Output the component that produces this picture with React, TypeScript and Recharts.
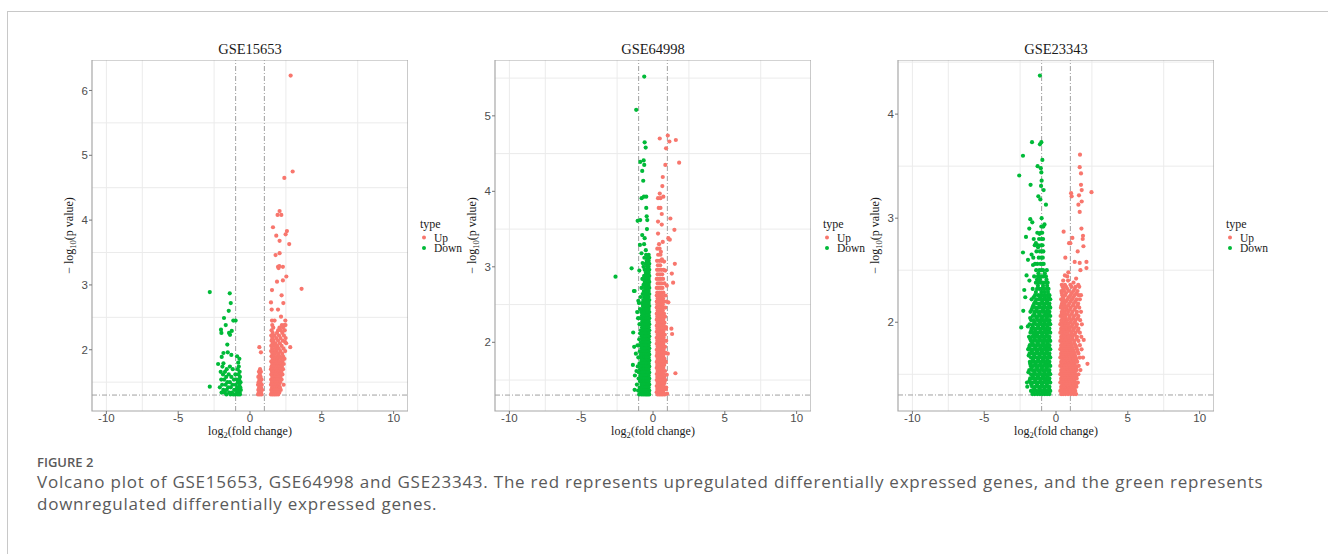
import React from "react";
import {
  ScatterChart,
  Scatter,
  XAxis,
  YAxis,
  CartesianGrid,
  ReferenceLine,
  ReferenceArea,
} from "recharts";

type Pt = [number, number];
type Row = [number, number[]]; // [y, xs]

const typeLabels = ["Up", "Down"];
const xTicks = [-10, -5, 0, 5, 10];
const xMinor = [-7.5, -2.5, 2.5, 7.5];
const xDomain: [number, number] = [-11, 11];
const fcCutoff = [-1, 1];
const pCutoff = 1.301;

// GSE15653
const gse15653Ticks = [2, 3, 4, 5, 6];
const gse15653Minor = [1.5, 2.5, 3.5, 4.5, 5.5];
const gse15653Domain: [number, number] = [1.055, 6.47];
const gse15653Up: Pt[] = [
  [2.83, 6.23], [2.97, 4.75], [2.39, 4.65], [2.06, 4.14], [1.92, 4.08], [2.18, 4.08],
  [1.6, 3.89], [2.57, 3.83], [2.48, 3.78], [1.83, 3.76], [2.06, 3.68], [2.73, 3.63],
  [2.06, 3.49], [1.78, 3.46], [1.95, 3.28], [2.04, 3.29], [2.29, 3.28], [1.99, 3.26],
  [2.53, 3.13], [2.29, 3.07], [1.88, 3.05], [3.59, 2.94], [1.53, 2.92], [2.2, 2.84],
  [1.46, 2.73], [2.32, 2.72], [1.51, 2.62], [1.95, 2.62], [2.16, 2.51], [1.53, 2.45],
  [1.71, 2.45], [2.46, 2.45], [2.8, 2.04], [2.48, 2.18], [2.44, 2.12], [0.65, 2.04],
  [0.76, 1.96],
];
const gse15653UpRows: Row[] = [
  [2.38, [1.55, 2.22, 2.38, 2.47]],
  [2.34, [1.62, 2.05, 2.3]],
  [2.3, [1.5, 1.96, 2.14, 2.42]],
  [2.26, [1.58, 1.88, 2.25]],
  [2.22, [1.48, 1.7, 2.02, 2.36]],
  [2.18, [1.55, 1.82, 2.12]],
  [2.14, [1.5, 1.64, 1.95, 2.28]],
  [2.1, [1.58, 1.76, 2.08, 2.52]],
  [2.06, [1.48, 1.68, 1.9, 2.2]],
  [2.02, [1.54, 1.8, 2.0, 2.33]],
  [1.98, [1.47, 1.62, 1.86, 2.12, 2.45]],
  [1.94, [1.56, 1.74, 1.97, 2.24]],
  [1.9, [1.5, 1.66, 1.88, 2.06, 2.3]],
  [1.86, [1.58, 1.79, 1.94, 2.16, 2.4]],
  [1.82, [1.48, 1.7, 1.86, 2.02, 2.26]],
  [1.78, [1.55, 1.62, 1.78, 1.98, 2.12, 2.35]],
  [1.74, [1.5, 1.68, 1.9, 2.06, 2.22]],
  [1.7, [0.7, 1.46, 1.58, 1.76, 1.96, 2.14, 2.3]],
  [1.66, [0.62, 0.76, 1.53, 1.66, 1.84, 2.02, 2.18]],
  [1.62, [0.68, 1.48, 1.6, 1.74, 1.92, 2.08, 2.26]],
  [1.58, [0.58, 0.74, 1.55, 1.68, 1.82, 2.0, 2.12]],
  [1.54, [0.66, 0.8, 1.47, 1.6, 1.76, 1.9, 2.04, 2.2]],
  [1.5, [0.6, 0.72, 1.52, 1.64, 1.8, 1.96, 2.1]],
  [1.46, [0.56, 0.68, 0.82, 1.46, 1.58, 1.7, 1.86, 2.02, 2.34]],
  [1.42, [0.64, 0.76, 1.54, 1.66, 1.78, 1.92, 2.08]],
  [1.38, [0.58, 0.7, 0.84, 1.48, 1.6, 1.72, 1.84, 1.98, 2.14]],
  [1.34, [0.62, 0.76, 1.52, 1.64, 1.76, 1.9, 2.04]],
  [1.31, [0.56, 0.68, 0.8, 1.46, 1.58, 1.7, 1.82, 1.96]],
];
const gse15653Down: Pt[] = [
  [-2.8, 2.89], [-1.41, 2.87], [-1.34, 2.72], [-1.48, 2.6], [-1.81, 2.49], [-1.16, 2.45],
  [-1.0, 2.45], [-1.69, 2.38], [-2.02, 2.31], [-1.99, 2.26], [-1.46, 2.26], [-1.27, 2.29],
  [-1.39, 2.23], [-1.58, 2.08], [-1.85, 1.95], [-1.97, 1.89], [-1.55, 1.96], [-0.9, 1.9],
  [-0.74, 1.86], [-2.22, 1.78], [-1.85, 1.79], [-2.8, 1.43], [-1.3, 1.92], [-0.82, 1.8],
];
const gse15653DownRows: Row[] = [
  [1.74, [-1.92, -1.4, -0.78]],
  [1.7, [-1.62, -1.2, -0.86]],
  [1.66, [-2.04, -1.74, -0.72]],
  [1.62, [-1.88, -1.48, -1.02, -0.8]],
  [1.58, [-1.66, -1.3, -0.7]],
  [1.54, [-2.0, -1.8, -1.12, -0.92, -0.76]],
  [1.5, [-1.58, -1.4, -0.84, -0.66]],
  [1.46, [-1.94, -1.7, -1.22, -1.0, -0.74]],
  [1.42, [-2.1, -1.52, -1.34, -0.88, -0.68]],
  [1.38, [-1.86, -1.62, -1.1, -0.96, -0.8, -0.64]],
  [1.34, [-1.98, -1.76, -1.44, -1.26, -0.9, -0.72]],
  [1.31, [-1.64, -1.36, -1.16, -1.02, -0.84, -0.7]],
];

// GSE64998
const gse64998Ticks = [2, 3, 4, 5];
const gse64998Minor = [1.5, 2.5, 3.5, 4.5, 5.5];
const gse64998Domain: [number, number] = [1.09, 5.74];
const gse64998Up: Pt[] = [
  [1.03, 4.74], [0.47, 4.7], [1.59, 4.68], [1.14, 4.66], [0.91, 4.57], [1.82, 4.38],
  [0.86, 4.35], [0.68, 4.19], [0.65, 4.07], [0.47, 3.97], [0.35, 3.91], [0.72, 3.93],
  [0.52, 3.91], [0.4, 3.78], [0.52, 3.78], [0.61, 3.7], [1.21, 3.64], [0.35, 3.6],
  [0.61, 3.56], [1.49, 3.49], [0.35, 3.44], [1.07, 3.38], [1.17, 3.36], [0.68, 3.33],
  [0.42, 3.3], [0.55, 3.2], [0.77, 3.07], [1.52, 3.04], [1.31, 2.91], [1.4, 2.79],
  [0.96, 2.75], [1.07, 2.53], [1.28, 2.18], [1.33, 2.11], [1.56, 1.59], [0.96, 1.57],
  [1.03, 1.85], [0.92, 1.4], [0.98, 1.32], [0.9, 2.2], [0.85, 2.95], [0.62, 3.1],
];
const gse64998UpRows: Row[] = [
  [3.24, [0.3, 0.46]],
  [3.16, [0.36, 0.52]],
  [3.08, [0.28, 0.44, 0.6]],
  [3.02, [0.34, 0.5]],
  [2.96, [0.28, 0.42, 0.58, 0.74]],
  [2.9, [0.32, 0.48, 0.64]],
  [2.84, [0.26, 0.4, 0.54, 0.7]],
  [2.78, [0.32, 0.46, 0.6, 0.8]],
  [2.72, [0.26, 0.38, 0.52, 0.66]],
  [2.66, [0.3, 0.44, 0.58, 0.72]],
  [2.62, [0.26, 0.36, 0.5, 0.64, 0.88]],
  [2.58, [0.32, 0.44, 0.56, 0.7]],
  [2.54, [0.26, 0.38, 0.5, 0.62, 0.78, 0.94]],
  [2.5, [0.3, 0.42, 0.56, 0.68]],
  [2.46, [0.26, 0.36, 0.48, 0.6, 0.74, 0.86]],
  [2.42, [0.32, 0.44, 0.56, 0.68]],
  [2.38, [0.26, 0.38, 0.5, 0.62, 0.76]],
  [2.34, [0.3, 0.42, 0.54, 0.66, 0.84]],
  [2.3, [0.26, 0.36, 0.48, 0.6, 0.72]],
  [2.26, [0.32, 0.44, 0.56, 0.68, 0.8]],
  [2.22, [0.26, 0.38, 0.5, 0.62, 0.74]],
  [2.18, [0.3, 0.42, 0.54, 0.66, 0.78, 0.9]],
  [2.14, [0.26, 0.36, 0.48, 0.6, 0.72]],
  [2.1, [0.32, 0.44, 0.56, 0.68, 0.82]],
  [2.06, [0.26, 0.38, 0.5, 0.62, 0.74]],
  [2.02, [0.3, 0.42, 0.54, 0.66, 0.78, 0.92]],
  [1.98, [0.26, 0.36, 0.48, 0.6, 0.72]],
  [1.94, [0.32, 0.44, 0.56, 0.68, 0.84]],
  [1.9, [0.26, 0.38, 0.5, 0.62, 0.74]],
  [1.86, [0.3, 0.42, 0.54, 0.66, 0.78, 0.88]],
  [1.82, [0.26, 0.36, 0.48, 0.6, 0.72]],
  [1.78, [0.32, 0.44, 0.56, 0.68, 0.8]],
  [1.74, [0.26, 0.38, 0.5, 0.62, 0.74, 0.9]],
  [1.7, [0.3, 0.42, 0.54, 0.66, 0.78]],
  [1.66, [0.26, 0.36, 0.48, 0.6, 0.72]],
  [1.62, [0.32, 0.44, 0.56, 0.68, 0.84]],
  [1.58, [0.26, 0.38, 0.5, 0.62, 0.74]],
  [1.54, [0.3, 0.42, 0.54, 0.66, 0.78]],
  [1.5, [0.26, 0.36, 0.48, 0.6, 0.72, 0.86]],
  [1.46, [0.32, 0.44, 0.56, 0.68, 0.8]],
  [1.42, [0.26, 0.38, 0.5, 0.62, 0.74]],
  [1.38, [0.3, 0.42, 0.54, 0.66, 0.78, 0.9]],
  [1.34, [0.26, 0.36, 0.48, 0.6, 0.72]],
  [1.31, [0.32, 0.44, 0.56, 0.68, 0.82]],
];
const gse64998Down: Pt[] = [
  [-0.61, 5.52], [-1.17, 5.08], [-0.58, 4.65], [-0.51, 4.58], [-0.89, 4.39], [-0.65, 4.41],
  [-0.61, 4.35], [-0.75, 4.27], [-0.68, 4.14], [-0.79, 3.91], [-0.47, 3.93], [-0.63, 3.93],
  [-0.47, 3.78], [-1.07, 3.61], [-0.89, 3.62], [-0.44, 3.67], [-0.4, 3.62], [-0.42, 3.5],
  [-0.75, 3.42], [-0.58, 3.38], [-0.91, 3.29], [-0.62, 3.3], [-0.5, 3.22], [-0.8, 3.18],
  [-1.49, 2.98], [-2.61, 2.87], [-0.72, 3.05], [-0.95, 2.95], [-1.28, 2.68], [-1.33, 2.68],
  [-1.38, 2.13], [-1.31, 1.94], [-1.19, 1.85], [-1.26, 1.56], [-1.28, 1.37], [-1.1, 2.4],
  [-1.02, 2.55], [-1.4, 1.7], [-1.15, 1.62],
];
const gse64998DownRows: Row[] = [
  [3.16, [-0.3, -0.48]],
  [3.12, [-0.26, -0.38, -0.6]],
  [3.08, [-0.3, -0.44]],
  [3.04, [-0.26, -0.36, -0.52]],
  [3.0, [-0.3, -0.42, -0.66]],
  [2.96, [-0.26, -0.34, -0.46, -0.58]],
  [2.92, [-0.3, -0.4, -0.5]],
  [2.88, [-0.26, -0.36, -0.46, -0.62]],
  [2.84, [-0.3, -0.42, -0.54, -0.74]],
  [2.8, [-0.26, -0.34, -0.46, -0.58]],
  [2.76, [-0.3, -0.4, -0.5, -0.66]],
  [2.72, [-0.26, -0.36, -0.46, -0.56, -0.8]],
  [2.68, [-0.3, -0.42, -0.52, -0.64]],
  [2.64, [-0.26, -0.34, -0.46, -0.58, -0.72]],
  [2.6, [-0.3, -0.4, -0.5, -0.62, -0.86]],
  [2.56, [-0.26, -0.36, -0.46, -0.56, -0.68]],
  [2.52, [-0.3, -0.42, -0.52, -0.64, -0.78, -0.98]],
  [2.48, [-0.26, -0.34, -0.46, -0.58, -0.7]],
  [2.44, [-0.3, -0.4, -0.5, -0.62, -0.74, -0.9]],
  [2.4, [-0.26, -0.36, -0.46, -0.56, -0.68, -0.82]],
  [2.36, [-0.3, -0.42, -0.52, -0.64, -0.76]],
  [2.32, [-0.26, -0.34, -0.46, -0.58, -0.7, -0.86, -1.04]],
  [2.28, [-0.3, -0.4, -0.5, -0.62, -0.74]],
  [2.24, [-0.26, -0.36, -0.46, -0.56, -0.68, -0.8, -0.94]],
  [2.2, [-0.3, -0.42, -0.52, -0.64, -0.76]],
  [2.16, [-0.26, -0.34, -0.46, -0.58, -0.7, -0.84]],
  [2.12, [-0.3, -0.4, -0.5, -0.62, -0.74, -0.9]],
  [2.08, [-0.26, -0.36, -0.46, -0.56, -0.68, -0.8]],
  [2.04, [-0.3, -0.42, -0.52, -0.64, -0.76, -0.96]],
  [2.0, [-0.26, -0.34, -0.46, -0.58, -0.7, -0.84]],
  [1.96, [-0.3, -0.4, -0.5, -0.62, -0.74, -0.88, -1.08]],
  [1.92, [-0.26, -0.36, -0.46, -0.56, -0.68, -0.8]],
  [1.88, [-0.3, -0.42, -0.52, -0.64, -0.76, -0.92]],
  [1.84, [-0.26, -0.34, -0.46, -0.58, -0.7, -0.84]],
  [1.8, [-0.3, -0.4, -0.5, -0.62, -0.74, -0.88, -1.02]],
  [1.76, [-0.26, -0.36, -0.46, -0.56, -0.68, -0.8]],
  [1.72, [-0.3, -0.42, -0.52, -0.64, -0.76, -0.94]],
  [1.68, [-0.26, -0.34, -0.46, -0.58, -0.7, -0.84, -1.06]],
  [1.64, [-0.3, -0.4, -0.5, -0.62, -0.74, -0.9]],
  [1.6, [-0.26, -0.36, -0.46, -0.56, -0.68, -0.8, -0.98]],
  [1.56, [-0.3, -0.42, -0.52, -0.64, -0.76, -0.88]],
  [1.52, [-0.26, -0.34, -0.46, -0.58, -0.7, -0.84, -1.0]],
  [1.48, [-0.3, -0.4, -0.5, -0.62, -0.74, -0.9]],
  [1.44, [-0.26, -0.36, -0.46, -0.56, -0.68, -0.8, -1.12]],
  [1.4, [-0.3, -0.42, -0.52, -0.64, -0.76, -0.92]],
  [1.36, [-0.26, -0.34, -0.46, -0.58, -0.7, -0.84, -1.04]],
  [1.33, [-0.3, -0.4, -0.5, -0.62, -0.74, -0.88]],
  [1.31, [-0.26, -0.36, -0.46, -0.56, -0.68, -0.8, -0.96]],
];

// GSE23343
const gse23343Ticks = [2, 3, 4];
const gse23343Minor = [1.5, 2.5, 3.5, 4.5];
const gse23343Domain: [number, number] = [1.147, 4.52];
const gse23343Up: Pt[] = [
  [1.67, 3.61], [1.65, 3.49], [1.74, 3.43], [1.74, 3.32], [1.79, 3.27], [2.47, 3.25],
  [1.05, 3.24], [1.09, 3.21], [1.6, 3.22], [1.79, 3.16], [1.56, 3.13], [1.65, 3.06],
  [1.77, 2.9], [0.53, 2.87], [1.14, 2.81], [1.88, 2.83], [1.86, 2.8], [0.91, 2.76],
  [1.0, 2.76], [1.91, 2.73], [1.51, 2.68], [0.65, 2.62], [1.3, 2.58], [1.65, 2.57],
  [2.12, 2.58], [2.12, 2.52], [1.7, 2.5], [0.86, 2.48], [0.78, 2.44], [1.93, 1.83],
  [2.19, 1.6], [1.88, 1.66], [1.4, 2.42], [1.22, 2.38], [1.55, 2.36], [0.62, 2.45],
];
const gse23343UpRows: Row[] = [
  [2.4, [0.5, 0.84]],
  [2.36, [0.4, 0.62, 1.0]],
  [2.34, [0.46, 0.7, 1.08, 1.36, 1.62]],
  [2.32, [0.52, 0.78, 1.3]],
  [2.3, [0.38, 0.56, 0.9, 1.2, 1.5]],
  [2.28, [0.4, 0.7, 1.1, 1.42]],
  [2.26, [0.44, 0.64, 1.0, 1.3, 1.58, 1.74]],
  [2.24, [0.5, 0.88, 1.2]],
  [2.22, [0.36, 0.52, 0.8, 1.12, 1.44, 1.66]],
  [2.2, [0.46, 0.7, 1.02, 1.34]],
  [2.18, [0.42, 0.6, 0.92, 1.24, 1.54]],
  [2.16, [0.38, 0.62, 0.86, 1.18, 1.5]],
  [2.14, [0.34, 0.5, 0.72, 1.02, 1.36, 1.62]],
  [2.12, [0.48, 0.74, 0.96, 1.28]],
  [2.1, [0.4, 0.58, 0.84, 1.14, 1.46, 1.74]],
  [2.08, [0.4, 0.58, 0.82, 1.1, 1.42]],
  [2.06, [0.32, 0.48, 0.66, 0.96, 1.26, 1.56]],
  [2.04, [0.46, 0.66, 0.92, 1.2, 1.52]],
  [2.02, [0.38, 0.54, 0.76, 1.06, 1.36, 1.68]],
  [2.0, [0.38, 0.56, 0.76, 1.0, 1.3]],
  [1.98, [0.3, 0.46, 0.62, 0.86, 1.16, 1.46, 1.8]],
  [1.96, [0.44, 0.64, 0.84, 1.1, 1.4]],
  [1.94, [0.36, 0.52, 0.7, 0.96, 1.26, 1.56]],
  [1.92, [0.38, 0.52, 0.74, 0.96, 1.2, 1.52]],
  [1.9, [0.3, 0.44, 0.6, 0.78, 1.06, 1.36, 1.66]],
  [1.88, [0.44, 0.6, 0.8, 1.04, 1.3]],
  [1.86, [0.36, 0.5, 0.66, 0.88, 1.16, 1.46, 1.76]],
  [1.84, [0.38, 0.52, 0.7, 0.9, 1.14, 1.44]],
  [1.82, [0.3, 0.44, 0.58, 0.76, 0.98, 1.26, 1.56]],
  [1.8, [0.44, 0.6, 0.8, 1.02, 1.26]],
  [1.78, [0.36, 0.5, 0.66, 0.84, 1.08, 1.36, 1.66]],
  [1.76, [0.38, 0.52, 0.7, 0.88, 1.12, 1.4]],
  [1.74, [0.3, 0.44, 0.58, 0.74, 0.94, 1.18, 1.46, 1.78]],
  [1.72, [0.44, 0.6, 0.8, 1.0, 1.22, 1.5]],
  [1.7, [0.36, 0.5, 0.66, 0.84, 1.04, 1.28, 1.56]],
  [1.68, [0.38, 0.52, 0.7, 0.88, 1.08, 1.32]],
  [1.66, [0.3, 0.44, 0.58, 0.74, 0.94, 1.14, 1.38, 1.66]],
  [1.64, [0.44, 0.6, 0.8, 1.0, 1.2, 1.42]],
  [1.62, [0.36, 0.5, 0.66, 0.84, 1.04, 1.24, 1.48]],
  [1.6, [0.38, 0.52, 0.7, 0.88, 1.08, 1.3]],
  [1.58, [0.3, 0.44, 0.58, 0.74, 0.94, 1.14, 1.34, 1.58]],
  [1.56, [0.44, 0.6, 0.8, 1.0, 1.2, 1.4]],
  [1.54, [0.36, 0.5, 0.66, 0.84, 1.04, 1.24, 1.44, 1.7]],
  [1.52, [0.38, 0.52, 0.7, 0.88, 1.08, 1.3]],
  [1.5, [0.3, 0.44, 0.58, 0.74, 0.94, 1.14, 1.34, 1.56]],
  [1.48, [0.44, 0.6, 0.8, 1.0, 1.2, 1.4]],
  [1.46, [0.36, 0.5, 0.66, 0.84, 1.04, 1.24, 1.44]],
  [1.44, [0.38, 0.52, 0.7, 0.88, 1.08, 1.28]],
  [1.42, [0.3, 0.44, 0.58, 0.74, 0.94, 1.14, 1.34, 1.52]],
  [1.4, [0.44, 0.6, 0.8, 1.0, 1.2, 1.38]],
  [1.38, [0.36, 0.5, 0.66, 0.84, 1.04, 1.24, 1.42]],
  [1.36, [0.38, 0.52, 0.7, 0.88, 1.08, 1.28]],
  [1.34, [0.3, 0.44, 0.58, 0.74, 0.94, 1.14, 1.34]],
  [1.325, [0.44, 0.6, 0.8, 1.0, 1.2]],
  [1.31, [0.36, 0.5, 0.66, 0.84, 1.04, 1.24, 1.4]],
];
const gse23343Down: Pt[] = [
  [-1.12, 4.37], [-1.67, 3.73], [-1.12, 3.71], [-1.02, 3.73], [-2.3, 3.6], [-0.95, 3.56],
  [-1.28, 3.5], [-1.06, 3.48], [-2.56, 3.41], [-1.02, 3.44], [-1.0, 3.36], [-1.77, 3.32],
  [-1.04, 3.31], [-0.86, 3.27], [-1.23, 3.21], [-1.09, 3.18], [-0.7, 3.13], [-1.0, 3.0],
  [-1.79, 2.99], [-1.65, 2.96], [-0.88, 2.92], [-0.8, 2.94], [-1.86, 2.9], [-2.09, 2.82],
  [-2.3, 2.67], [-2.42, 1.95], [-2.28, 2.11], [-2.21, 2.31], [-2.14, 2.24], [-2.02, 1.42],
  [-2.0, 1.38], [-1.55, 2.8], [-1.4, 2.76], [-1.7, 2.65], [-1.95, 2.6], [-1.6, 2.55],
  [-2.05, 2.45], [-1.85, 2.4], [-1.25, 2.72], [-1.15, 2.85],
];
const gse23343DownRows: Row[] = [
  [2.92, [-0.92, -1.02]],
  [2.86, [-0.96, -1.06, -1.3]],
  [2.8, [-0.9, -1.0, -1.18]],
  [2.74, [-0.94, -1.04, -1.24, -1.48]],
  [2.68, [-0.88, -0.98, -1.12, -1.36]],
  [2.62, [-0.92, -1.02, -1.2, -1.58]],
  [2.56, [-0.86, -0.96, -1.08, -1.3, -1.46]],
  [2.5, [-0.64, -0.9, -1.0, -1.16, -1.38]],
  [2.47, [-0.78, -1.22]],
  [2.44, [-0.7, -0.86, -0.98, -1.1, -1.26, -1.52]],
  [2.41, [-0.66, -1.12, -1.32]],
  [2.38, [-0.58, -0.76, -0.92, -1.04, -1.2, -1.4]],
  [2.35, [-0.62, -0.9, -1.26]],
  [2.32, [-0.52, -0.66, -0.84, -0.98, -1.14, -1.32, -1.62]],
  [2.29, [-0.56, -0.8, -1.02, -1.4]],
  [2.26, [-0.46, -0.6, -0.76, -0.92, -1.06, -1.24, -1.46]],
  [2.24, [-0.5, -0.78, -1.1, -1.56]],
  [2.22, [-0.4, -0.54, -0.7, -0.86, -1.0, -1.18, -1.36, -1.7]],
  [2.2, [-0.62, -0.96, -1.44]],
  [2.18, [-0.46, -0.62, -0.78, -0.94, -1.1, -1.28, -1.52]],
  [2.16, [-0.48, -0.82, -1.14, -1.58]],
  [2.14, [-0.4, -0.54, -0.7, -0.86, -1.02, -1.2, -1.4, -1.64]],
  [2.12, [-0.58, -0.9, -1.36, -1.7]],
  [2.1, [-0.46, -0.62, -0.78, -0.94, -1.12, -1.3, -1.5, -1.78]],
  [2.08, [-0.5, -0.76, -1.16, -1.52]],
  [2.06, [-0.4, -0.54, -0.7, -0.86, -1.04, -1.22, -1.44, -1.62]],
  [2.04, [-0.64, -0.98, -1.34, -1.8]],
  [2.02, [-0.46, -0.62, -0.78, -0.94, -1.1, -1.28, -1.54, -1.72]],
  [2.0, [-0.48, -0.8, -1.12, -1.5]],
  [1.98, [-0.4, -0.54, -0.7, -0.86, -1.02, -1.2, -1.38, -1.6, -1.84]],
  [1.96, [-0.6, -0.9, -1.24, -1.62, -1.96]],
  [1.94, [-0.46, -0.62, -0.78, -0.94, -1.12, -1.3, -1.48, -1.7]],
  [1.92, [-0.5, -0.76, -1.08, -1.44, -1.72]],
  [1.9, [-0.4, -0.54, -0.7, -0.86, -1.04, -1.22, -1.4, -1.58, -1.78]],
  [1.88, [-0.64, -0.96, -1.32, -1.56]],
  [1.86, [-0.46, -0.62, -0.78, -0.94, -1.1, -1.28, -1.46, -1.66, -1.88]],
  [1.84, [-0.48, -0.8, -1.14, -1.48, -1.8]],
  [1.82, [-0.4, -0.54, -0.7, -0.86, -1.02, -1.2, -1.38, -1.56, -1.74]],
  [1.8, [-0.6, -0.9, -1.26, -1.66]],
  [1.78, [-0.46, -0.62, -0.78, -0.94, -1.12, -1.3, -1.48, -1.64, -1.82]],
  [1.76, [-0.5, -0.76, -1.08, -1.44, -1.86]],
  [1.74, [-0.4, -0.54, -0.7, -0.86, -1.04, -1.22, -1.4, -1.58, -1.76, -1.94]],
  [1.72, [-0.64, -0.98, -1.32, -1.68]],
  [1.7, [-0.46, -0.62, -0.78, -0.94, -1.1, -1.28, -1.46, -1.66, -1.84]],
  [1.68, [-0.48, -0.8, -1.14, -1.52, -1.9]],
  [1.66, [-0.4, -0.54, -0.7, -0.86, -1.02, -1.2, -1.38, -1.56, -1.74]],
  [1.64, [-0.6, -0.9, -1.24, -1.6]],
  [1.62, [-0.46, -0.62, -0.78, -0.94, -1.12, -1.3, -1.48, -1.64, -1.82]],
  [1.6, [-0.5, -0.76, -1.08, -1.44, -1.8]],
  [1.58, [-0.4, -0.54, -0.7, -0.86, -1.04, -1.22, -1.4, -1.58, -1.76]],
  [1.56, [-0.64, -0.98, -1.32, -1.7]],
  [1.54, [-0.46, -0.62, -0.78, -0.94, -1.1, -1.28, -1.46, -1.66, -1.86]],
  [1.52, [-0.48, -0.8, -1.14, -1.5, -1.92]],
  [1.5, [-0.4, -0.54, -0.7, -0.86, -1.02, -1.2, -1.38, -1.56, -1.74]],
  [1.48, [-0.6, -0.9, -1.26, -1.62]],
  [1.46, [-0.46, -0.62, -0.78, -0.94, -1.12, -1.3, -1.48, -1.64, -1.8]],
  [1.44, [-0.5, -0.76, -1.08, -1.44, -1.84]],
  [1.42, [-0.4, -0.54, -0.7, -0.86, -1.04, -1.22, -1.4, -1.58, -1.76]],
  [1.4, [-0.64, -0.98, -1.32, -1.72]],
  [1.38, [-0.46, -0.62, -0.78, -0.94, -1.1, -1.28, -1.46, -1.66]],
  [1.36, [-0.48, -0.8, -1.14, -1.52]],
  [1.34, [-0.4, -0.54, -0.7, -0.86, -1.02, -1.2, -1.38, -1.56, -1.74]],
  [1.325, [-0.6, -0.9, -1.26, -1.6]],
  [1.31, [-0.46, -0.62, -0.78, -0.94, -1.12, -1.3, -1.48, -1.64]],
];

const UP = "#F8766D";
const DOWN = "#00BA38";
const SERIF = "'Liberation Serif', 'DejaVu Serif', serif";
const SANS = "'Liberation Sans', Arial, sans-serif";

const PLOT_W = 316;
const PLOT_H = 351;
const PLOT_TOP = 60;
const Y_AXIS_W = 30;
const X_AXIS_H = 30;

const toPoints = (pts: Pt[], rows: Row[]) => [
  ...pts.map(([x, y]) => ({ x, y })),
  ...rows.flatMap(([y, xs]) => xs.map((x) => ({ x, y }))),
];

const dot = (color: string) => (p: any) =>
  <circle cx={p.cx} cy={p.cy} r={2.1} fill={color} />;

type PanelProps = {
  title: string;
  left: number;
  up: Pt[];
  upRows: Row[];
  down: Pt[];
  downRows: Row[];
  domain: [number, number];
  ticks: number[];
  minor: number[];
};

const Volcano = ({ title, left, up, upRows, down, downRows, domain, ticks, minor }: PanelProps) => {
  const upData = toPoints(up, upRows);
  const downData = toPoints(down, downRows);
  const cx = left + PLOT_W / 2;
  const legendX = left + PLOT_W + 12;
  return (
    <>
      <div style={{ position: "absolute", left: left - Y_AXIS_W, top: PLOT_TOP }}>
        <ScatterChart
          width={PLOT_W + Y_AXIS_W}
          height={PLOT_H + X_AXIS_H}
          margin={{ top: 0, right: 0, bottom: 0, left: 0 }}
        >
          <CartesianGrid
            stroke="#ebebeb"
            strokeWidth={1}
            verticalValues={[...xTicks, ...xMinor]}
            horizontalValues={[...ticks, ...minor]}
          />
          <XAxis
            type="number"
            dataKey="x"
            domain={xDomain}
            ticks={xTicks}
            allowDataOverflow
            height={X_AXIS_H}
            axisLine={false}
            tickLine={{ stroke: "#777" }}
            tickSize={3}
            tickMargin={0}
            tick={{ fontSize: 11.5, fill: "#4d4d4d", fontFamily: SANS }}
          />
          <YAxis
            type="number"
            dataKey="y"
            domain={domain}
            ticks={ticks}
            allowDataOverflow
            width={Y_AXIS_W}
            axisLine={false}
            tickLine={{ stroke: "#777" }}
            tickSize={3}
            tickMargin={1}
            tick={{ fontSize: 11.5, fill: "#4d4d4d", fontFamily: SANS }}
          />
          <Scatter data={downData} shape={dot(DOWN)} isAnimationActive={false} />
          <Scatter data={upData} shape={dot(UP)} isAnimationActive={false} />
          {fcCutoff.map((v) => (
            <ReferenceLine key={v} x={v} stroke="#a0a0a0" strokeDasharray="5 2 1 2" />
          ))}
          <ReferenceLine y={pCutoff} stroke="#a0a0a0" strokeDasharray="5 2 1 2" />
          <ReferenceArea
            x1={xDomain[0]}
            x2={xDomain[1]}
            y1={domain[0]}
            y2={domain[1]}
            fill="none"
            fillOpacity={0}
            stroke="#a8a8a8"
            strokeWidth={1.2}
          />
        </ScatterChart>
      </div>
      <svg
        width={1328}
        height={554}
        style={{ position: "absolute", left: 0, top: 0, pointerEvents: "none" }}
      >
        <text x={cx} y={54} textAnchor="middle" fontFamily={SERIF} fontSize={14.5} fill="#1a1a1a">
          {title}
        </text>
        <text x={cx} y={435} textAnchor="middle" fontFamily={SERIF} fontSize={12} fill="#1a1a1a">
          log<tspan dy={3} fontSize={8.5}>2</tspan>
          <tspan dy={-3}>(fold change)</tspan>
        </text>
        <text
          transform={`translate(${left - 19}, ${PLOT_TOP + PLOT_H / 2}) rotate(-90)`}
          textAnchor="middle"
          fontFamily={SERIF}
          fontSize={12}
          fill="#1a1a1a"
        >
          − log<tspan dy={3} fontSize={8.5}>10</tspan>
          <tspan dy={-3}>(p value)</tspan>
        </text>
        <text x={legendX} y={228} fontFamily={SERIF} fontSize={12} fill="#1a1a1a">
          type
        </text>
        {typeLabels.map((label, i) => (
          <g key={label}>
            <circle cx={legendX + 4} cy={237.5 + i * 10.5} r={2} fill={i === 0 ? UP : DOWN} />
            <text x={legendX + 14} y={241.5 + i * 10.5} fontFamily={SERIF} fontSize={11.5} fill="#1a1a1a">
              {label}
            </text>
          </g>
        ))}
      </svg>
    </>
  );
};

export default function App() {
  return (
    <div
      style={{
        position: "absolute",
        left: 0,
        top: 0,
        width: 1328,
        height: 554,
        background: "#fff",
        overflow: "hidden",
      }}
    >
      <div
        style={{
          position: "absolute",
          left: 7,
          top: 11,
          right: 0,
          bottom: 0,
          borderTop: "1px solid #c8c8c8",
          borderLeft: "1px solid #c8c8c8",
        }}
      />
      <Volcano
        title="GSE15653"
        left={92}
        up={gse15653Up}
        upRows={gse15653UpRows}
        down={gse15653Down}
        downRows={gse15653DownRows}
        domain={gse15653Domain}
        ticks={gse15653Ticks}
        minor={gse15653Minor}
      />
      <Volcano
        title="GSE64998"
        left={495}
        up={gse64998Up}
        upRows={gse64998UpRows}
        down={gse64998Down}
        downRows={gse64998DownRows}
        domain={gse64998Domain}
        ticks={gse64998Ticks}
        minor={gse64998Minor}
      />
      <Volcano
        title="GSE23343"
        left={898}
        up={gse23343Up}
        upRows={gse23343UpRows}
        down={gse23343Down}
        downRows={gse23343DownRows}
        domain={gse23343Domain}
        ticks={gse23343Ticks}
        minor={gse23343Minor}
      />
      <div
        style={{
          position: "absolute",
          left: 37,
          top: 454,
          fontFamily: "'Open Sans', 'Noto Sans', sans-serif",
          color: "#5a5a5a",
          whiteSpace: "nowrap",
        }}
      >
        <div style={{ fontSize: 13, fontWeight: 600, lineHeight: "17px" }}>FIGURE 2</div>
        <div style={{ fontSize: 17, lineHeight: "22px", letterSpacing: "0.77px" }}>
          Volcano plot of GSE15653, GSE64998 and GSE23343. The red represents upregulated
          differentially expressed genes, and the green represents
          <br />
          downregulated differentially expressed genes.
        </div>
      </div>
    </div>
  );
}
